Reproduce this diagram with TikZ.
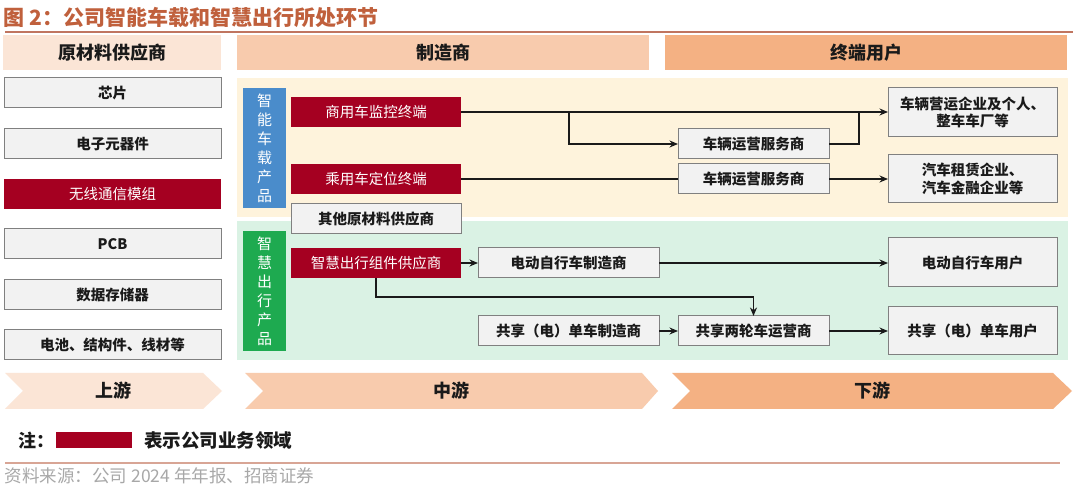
\documentclass[tikz,border=0pt]{standalone}
\usepackage{fontspec}
\setmainfont{Noto Sans CJK SC}
\usetikzlibrary{arrows.meta}
\definecolor{titlec}{HTML}{C0603C}
\definecolor{rulec}{HTML}{C07560}
\definecolor{hdA}{HTML}{FBE5D6}
\definecolor{hdB}{HTML}{F8CBAD}
\definecolor{hdC}{HTML}{F4B183}
\definecolor{bgY}{HTML}{FEF3DC}
\definecolor{bgG}{HTML}{DAF2E4}
\definecolor{blueB}{HTML}{4A8CCB}
\definecolor{greenB}{HTML}{1EAA50}
\definecolor{redB}{HTML}{A50021}
\definecolor{grayF}{HTML}{F2F2F2}
\definecolor{grayD}{HTML}{808080}
\definecolor{inkc}{HTML}{1A1A1A}
\definecolor{srcc}{HTML}{A8A8A8}
\definecolor{botrule}{HTML}{D8A595}
\begin{document}
\begin{tikzpicture}[x=1pt,y=-1pt,
  every node/.style={inner sep=0pt, outer sep=0pt},
  graybox/.style={draw=grayD, line width=1pt, fill=grayF, text=inkc, font=\bfseries\fontsize{14.5}{17.5}\selectfont, align=center},
  redbox/.style={fill=redB, text=white, font=\fontsize{14.5}{17.5}\selectfont, align=center},
  hdr/.style={text=inkc, font=\bfseries\fontsize{18}{21}\selectfont},
  side/.style={text=white, font=\fontsize{15}{19}\selectfont, align=center},
  conn/.style={draw=inkc, line width=1.5pt},
  arr/.style={conn, -{Stealth[length=8.5pt,width=7pt]}},
  chev/.style={text=inkc, font=\bfseries\fontsize{18}{21}\selectfont}
]
\useasboundingbox (0,0) rectangle (1080,486);
\fill[white] (0,0) rectangle (1080,486);
% title
\node[anchor=west, text=titlec, font=\bfseries\fontsize{21}{24}\selectfont] (title) at (4,18) {图 2：公司智能车载和智慧出行所处环节};
\draw[rulec, line width=1.6pt] (5,32) -- (1073,32);
% headers
\node[fill=hdA, minimum width=218pt, minimum height=35pt, hdr] (h1) at (112,52.5) {原材料供应商};
\node[fill=hdB, minimum width=412pt, minimum height=35pt, hdr] (h2) at (443,52.5) {制造商};
\node[fill=hdC, minimum width=402pt, minimum height=35pt, hdr] (h3) at (866,52.5) {终端用户};
% backgrounds
\fill[bgY] (237,78) rectangle (1068,217);
\fill[bgG] (237,221) rectangle (1068,360);
% left column
\node[graybox, minimum width=217pt, minimum height=30pt] (l1) at (112.5,93) {芯片};
\node[graybox, minimum width=217pt, minimum height=30pt] (l2) at (112.5,144) {电子元器件};
\node[redbox, minimum width=217pt, minimum height=30pt] (l3) at (112.5,194) {无线通信模组};
\node[graybox, minimum width=217pt, minimum height=30pt] (l4) at (112.5,244) {PCB};
\node[graybox, minimum width=217pt, minimum height=30pt] (l5) at (112.5,295) {数据存储器};
\node[graybox, minimum width=217pt, minimum height=30pt] (l6) at (112.5,345) {电池、结构件、线材等};
% side labels
\node[fill=blueB, minimum width=43pt, minimum height=120pt, side] (sb) at (264.5,148) {智\\能\\车\\载\\产\\品};
\node[fill=greenB, minimum width=43pt, minimum height=120pt, side] (sg) at (264.5,291) {智\\慧\\出\\行\\产\\品};
% middle boxes
\node[redbox, minimum width=170pt, minimum height=30pt] (syc) at (376,112) {商用车监控终端};
\node[redbox, minimum width=170pt, minimum height=30pt] (cyc) at (376,179) {乘用车定位终端};
\node[graybox, minimum width=170pt, minimum height=30pt] (qt) at (376,219) {其他原材料供应商};
\node[redbox, minimum width=170pt, minimum height=30pt] (zh) at (376,263) {智慧出行组件供应商};
\node[graybox, minimum width=181pt, minimum height=30pt] (dz) at (568.5,263) {电动自行车制造商};
\node[graybox, minimum width=181pt, minimum height=30pt] (gz) at (568.5,331) {共享（电）单车制造商};
\node[graybox, minimum width=151pt, minimum height=30pt] (fw1) at (753.5,144) {车辆运营服务商};
\node[graybox, minimum width=151pt, minimum height=30pt] (fw2) at (753.5,179) {车辆运营服务商};
\node[graybox, minimum width=151pt, minimum height=30pt] (gy) at (753.5,331) {共享两轮车运营商};
% right boxes
\node[graybox, minimum width=169pt, minimum height=49pt] (yy) at (972.5,112.5) {车辆营运企业及个人、\\整车车厂等};
\node[graybox, minimum width=169pt, minimum height=48pt] (zl) at (972.5,179) {汽车租赁企业、\\汽车金融企业等};
\node[graybox, minimum width=169pt, minimum height=49pt] (du) at (972.5,262.5) {电动自行车用户};
\node[graybox, minimum width=169pt, minimum height=48pt] (gu) at (972.5,331) {共享（电）单车用户};
% connectors
\coordinate (j1) at (569,112);
\coordinate (j2) at (859,112);
\coordinate (j3) at (0,297);
\draw[arr] (syc.east) -- (yy.west |- syc.east);
\draw[arr] (j1) |- (fw1.west);
\draw[conn] (fw1.east) -| (j2);
\draw[conn] (cyc.east) -- (fw2.west);
\draw[arr] (fw2.east) -- (zl.west);
\draw[arr] (zh.east) -- (dz.west);
\draw[arr] (dz.east) -- (du.west |- dz.east);
\draw[arr] (zh.south) |- (gy.north |- j3) -- (gy.north);
\draw[arr] (gz.east) -- (gy.west);
\draw[arr] (gy.east) -- (gu.west);
% chevrons
\fill[hdA] (5,373) -- (203,373) -- (222,391) -- (203,409) -- (5,409) -- (23,391) -- cycle;
\fill[hdB] (245,373) -- (642,373) -- (658,391) -- (642,409) -- (245,409) -- (263,391) -- cycle;
\fill[hdC] (672,373) -- (1053,373) -- (1072,391) -- (1053,409) -- (672,409) -- (690,391) -- cycle;
\node[chev] (c1) at (113.5,391) {上游};
\node[chev] (c2) at (451,391) {中游};
\node[chev] (c3) at (872,391) {下游};
% note
\node[anchor=west, text=inkc, font=\bfseries\fontsize{18}{21}\selectfont] (nt) at (19,441) {注：};
\node[fill=redB, minimum width=76pt, minimum height=16pt] (nr) at (94,440) {};
\node[anchor=west, text=inkc, font=\bfseries\fontsize{18.5}{21}\selectfont] (ntx) at (144,441) {表示公司业务领域};
\draw[botrule, line width=1.6pt] (5,463) -- (1060,463);
\node[anchor=west, text=srcc, font=\fontsize{17.5}{20}\selectfont] (src) at (5,476) {资料来源：公司 2024 年年报、招商证券};
\end{tikzpicture}
\end{document}
